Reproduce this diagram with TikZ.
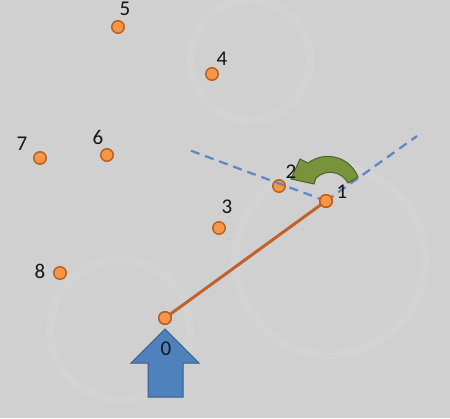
\documentclass[tikz,border=0pt]{standalone}
\usepackage{fontspec}
\setmainfont{Carlito}
\begin{document}
\begin{tikzpicture}[x=1pt,y=-1pt,
  dot/.style={circle,draw=dotedge,fill=dotfill,line width=1.4pt,minimum size=12.5pt,inner sep=0pt},
  lbl/.style={font=\fontsize{21}{22}\selectfont,text=black!92,inner sep=0pt},
  dashline/.style={draw=dashblue,line width=2.2pt,dash pattern=on 9pt off 6pt},
  pathline/.style={draw=pathbrown,line width=3pt}]
\definecolor{bg}{HTML}{D0D0D0}
\definecolor{dotfill}{HTML}{F79646}
\definecolor{dotedge}{HTML}{B65E1E}
\definecolor{dashblue}{HTML}{5B88C4}
\definecolor{pathbrown}{HTML}{C0622A}
\definecolor{arrowblue}{HTML}{4F81BD}
\definecolor{arrowedge}{HTML}{385D8A}
\definecolor{gfill}{HTML}{77933C}
\definecolor{gedge}{HTML}{4F6228}
\fill[bg] (0,0) rectangle (450,418);
\useasboundingbox (0,0) rectangle (450,418);
% faint swirls of the texture
\begin{scope}[draw=white,opacity=0.07,line width=8pt]
\draw (330,260) circle (95);
\draw (120,330) circle (70);
\draw (250,60) circle (60);
\end{scope}
% block arrow
\filldraw[fill=arrowblue,draw=arrowedge,line width=1pt]
  (165,329) -- (199,363) -- (183,363) -- (183,397) -- (148,397) -- (148,363) -- (131,363) -- cycle;
% dots
\node[dot] (p0) at (165,318) {};
\node[dot] (p1) at (326,201) {};
\node[dot] (p2) at (279,186) {};
\node[dot] (p3) at (219,228) {};
\node[dot] (p4) at (212,74) {};
\node[dot] (p5) at (118,27) {};
\node[dot] (p6) at (107,155) {};
\node[dot] (p7) at (40,158) {};
\node[dot] (p8) at (60,273) {};
% dashed lines
\coordinate (dl) at (189,150);
\coordinate (dr) at (417,136);
\draw[dashline] (p1.center) -- (dl);
\draw[dashline] (p1.center) -- (dr);
% path 0 -> 1
\draw[pathline] (p0) -- (p1);
\node[dot] at (p0) {};
\node[dot] at (p1) {};
% green curved arrow
\filldraw[fill=gfill,draw=gedge,line width=1pt]
  (358,177) .. controls (350,157) and (326,150) .. (308,163)
  -- (300,159) -- (291,179) -- (314,184) -- (316,178)
  .. controls (327,168) and (342,172) .. (348,183) -- cycle;
% labels
\node[lbl] (l0) at (166,349) {0};
\node[lbl] (l1) at (342,192) {1};
\node[lbl] (l2) at (291,172) {2};
\node[lbl] (l3) at (227,207) {3};
\node[lbl] (l4) at (222,59) {4};
\node[lbl] (l5) at (125,9) {5};
\node[lbl] (l6) at (98,137) {6};
\node[lbl] (l7) at (22,144) {7};
\node[lbl] (l8) at (40,271) {8};
\end{tikzpicture}
\end{document}
